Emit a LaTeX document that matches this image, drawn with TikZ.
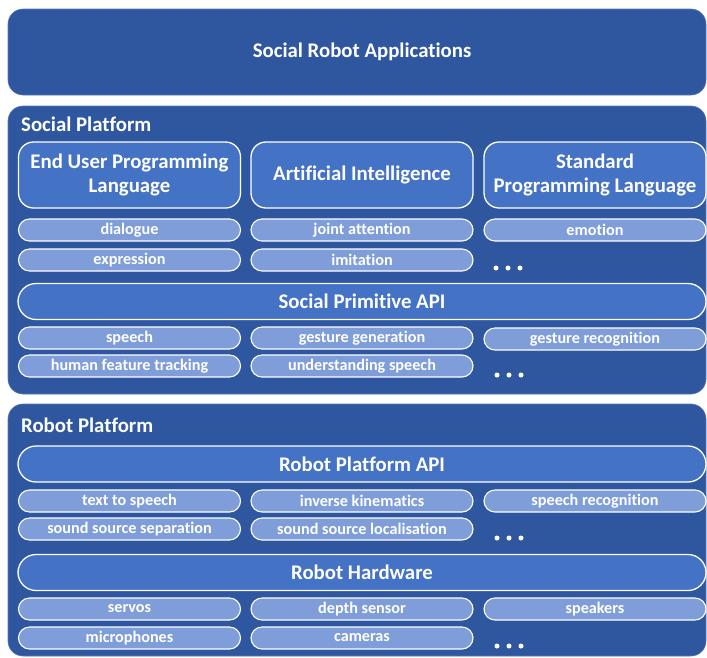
\documentclass[tikz,border=0pt]{standalone}
\usepackage{fontspec}
\setmainfont[Ligatures={NoCommon}]{Carlito}
\definecolor{darkbg}{HTML}{2F57A0}
\definecolor{midbox}{HTML}{4472C4}
\definecolor{pillc}{HTML}{7F9DD9}
\newcommand{\bigfont}{\bfseries\fontsize{20.8}{24.5}\selectfont}
\newcommand{\pillfont}{\bfseries\fontsize{16.2}{20}\selectfont}
\tikzset{
  outerbox/.style={fill=darkbg, draw=darkbg!80!white, line width=0.6pt, rounded corners=15pt, inner sep=0pt},
  bigbox/.style={fill=midbox, draw=white, line width=1.3pt, rounded corners=15pt, minimum width=222pt, minimum height=66pt, text=white, font=\bigfont, align=center, inner sep=0pt},
  apibar/.style={fill=midbox, draw=white, line width=1.3pt, rounded corners=18pt, minimum width=688pt, minimum height=36pt, text=white, font=\bigfont, inner sep=0pt},
  pill/.style={fill=pillc, draw=white, line width=1.1pt, rounded corners=11pt, minimum width=222pt, minimum height=22pt, text=white, font=\pillfont, inner sep=0pt},
  title/.style={text=white, font=\bigfont, anchor=west, inner sep=0pt},
  dotc/.style={circle, fill=white, draw=none, minimum size=5pt, inner sep=0pt}
}
\begin{document}
\begin{tikzpicture}[x=1pt,y=-1pt]
\useasboundingbox (0,0) rectangle (707,657);
% outer boxes
\node[outerbox, minimum width=698pt, minimum height=86pt] (apps) at (357,52) {};
\node[text=white, font=\bigfont, inner sep=0pt] (appstxt) at (362,52) {Social Robot Applications};
\node[outerbox, minimum width=698pt, minimum height=288pt] (social) at (357,250) {};
\node[outerbox, minimum width=698pt, minimum height=252pt] (robot) at (357,530) {};
\node[title] (sptitle) at (21,124) {Social Platform};
\node[title] (rptitle) at (21,425) {Robot Platform};
% social platform row
\node[bigbox] (eupl) at (129.5,175) {End User Programming\\Language};
\node[bigbox] (ai) at (362,175) {Artificial Intelligence};
\node[bigbox] (spl) at (595,175) {Standard\\Programming Language};
\node[pill] (dialogue) at (129.5,230) {dialogue};
\node[pill] (expression) at (129.5,260) {expression};
\node[pill] (joint) at (362,230) {joint attention};
\node[pill] (imitation) at (362,260) {imitation};
\node[pill] (emotion) at (595,230) {emotion};
\node[dotc] (d1a) at (496,268) {};
\node[dotc] (d1b) at (508,268) {};
\node[dotc] (d1c) at (520,268) {};
\node[apibar] (spapi) at (362,301.5) {Social Primitive API};
\node[pill] (speech) at (129.5,338) {speech};
\node[pill] (hft) at (129.5,366) {human feature tracking};
\node[pill] (gg) at (362,338) {gesture generation};
\node[pill] (us) at (362,366) {understanding speech};
\node[pill] (gr) at (595,339) {gesture recognition};
\node[dotc] (d2a) at (497,375) {};
\node[dotc] (d2b) at (509,375) {};
\node[dotc] (d2c) at (521,375) {};
% robot platform
\node[apibar] (rpapi) at (362,464) {Robot Platform API};
\node[pill] (tts) at (129.5,501) {text to speech};
\node[pill] (sss) at (129.5,529) {sound source separation};
\node[pill] (ik) at (362,501) {inverse kinematics};
\node[pill] (ssl) at (362,529) {sound source localisation};
\node[pill] (sr) at (595,501) {speech recognition};
\node[dotc] (d3a) at (497,538) {};
\node[dotc] (d3b) at (509,538) {};
\node[dotc] (d3c) at (521,538) {};
\node[apibar] (hw) at (362,572.5) {Robot Hardware};
\node[pill] (servos) at (129.5,609) {servos};
\node[pill] (mics) at (129.5,638) {microphones};
\node[pill] (depth) at (362,609) {depth sensor};
\node[pill] (cams) at (362,638) {cameras};
\node[pill] (spk) at (595,609) {speakers};
\node[dotc] (d4a) at (497,646) {};
\node[dotc] (d4b) at (509,646) {};
\node[dotc] (d4c) at (521,646) {};
\end{tikzpicture}
\end{document}
